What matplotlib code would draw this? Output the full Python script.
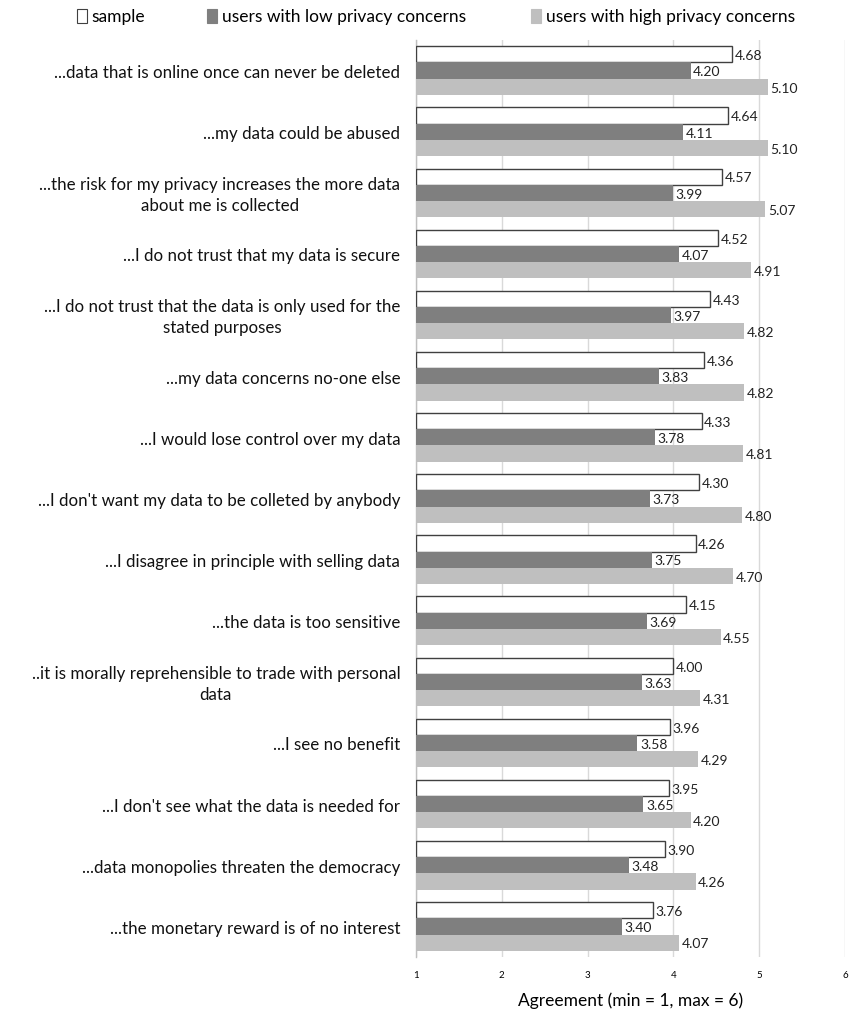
import matplotlib
matplotlib.use("Agg")
import matplotlib.pyplot as plt
from matplotlib.patches import Patch
import numpy as np

plt.rcParams['font.family'] = ['Lato', 'DejaVu Sans']

categories = [
    "...data that is online once can never be deleted",
    "...my data could be abused",
    "...the risk for my privacy increases the more data\nabout me is collected",
    "...I do not trust that my data is secure",
    "...I do not trust that the data is only used for the\nstated purposes",
    "...my data concerns no-one else",
    "...I would lose control over my data",
    "...I don't want my data to be colleted by anybody",
    "...I disagree in principle with selling data",
    "...the data is too sensitive",
    "..it is morally reprehensible to trade with personal\ndata",
    "...I see no benefit",
    "...I don't see what the data is needed for",
    "...data monopolies threaten the democracy",
    "...the monetary reward is of no interest",
]
sample = [4.68, 4.64, 4.57, 4.52, 4.43, 4.36, 4.33, 4.30, 4.26, 4.15, 4.00, 3.96, 3.95, 3.90, 3.76]
low = [4.20, 4.11, 3.99, 4.07, 3.97, 3.83, 3.78, 3.73, 3.75, 3.69, 3.63, 3.58, 3.65, 3.48, 3.40]
high = [5.10, 5.10, 5.07, 4.91, 4.82, 4.82, 4.81, 4.80, 4.70, 4.55, 4.31, 4.29, 4.20, 4.26, 4.07]
series_names = ["sample", "users with low privacy concerns", "users with high privacy concerns"]
xticks = [1, 2, 3, 4, 5, 6]

fig = plt.figure(figsize=(8.55, 10.09), dpi=100)
ax = fig.add_axes([416/855, 1 - 957/1009, (845-416)/855, (957-40)/1009])

n = len(categories)
y = np.arange(n)
h = 0.265
base = 1.0
styles = [
    dict(color="white", edgecolor="#404040", linewidth=1.0),
    dict(color="#7f7f7f", edgecolor="none"),
    dict(color="#bfbfbf", edgecolor="none"),
]
for i, (vals, st) in enumerate(zip([sample, low, high], styles)):
    pos = y + (i - 1) * h
    v = np.array(vals)
    ax.barh(pos, v - base, left=base, height=h, zorder=3, **st)
    for p, val in zip(pos, v):
        ax.text(val + 0.03, p + 0.03, f"{val:.2f}", va="center", ha="left",
                fontsize=10, color="#222222", zorder=4)

ax.set_ylim(n - 0.5, -0.5)
ax.set_xlim(1, 6)
ax.set_xticks(xticks)
ax.set_xticklabels([str(t) for t in xticks], fontsize=7)
ax.set_yticks(y)
ax.set_yticklabels([])
ax.tick_params(axis='both', length=0)
ax.tick_params(axis='x', pad=10)
ax.grid(axis='x', color="#d9d9d9", linewidth=1.0, zorder=0)
for s in ["top", "right", "bottom"]:
    ax.spines[s].set_visible(False)
ax.spines["left"].set_color("#bfbfbf")
ax.spines["left"].set_linewidth(1.0)

for yi, cat in zip(y, categories):
    ax.text(-0.037, yi + 0.04, cat, transform=ax.get_yaxis_transform(), ha="right",
            va="center", multialignment="center", fontsize=12.2, color="#111111",
            linespacing=1.35)

ax.set_xlabel("Agreement (min = 1, max = 6)", fontsize=12.5, labelpad=9)

legend_x = [77/855, 207/855, 531/855]
for st, name, lx in zip(styles, series_names, legend_x):
    ec = st["edgecolor"] if st["edgecolor"] != "none" else st["color"]
    hnd = Patch(facecolor=st["color"], edgecolor=ec, linewidth=0.8)
    fig.legend([hnd], [name], loc="center left", bbox_to_anchor=(lx, 1 - 17/1009),
               frameon=False, fontsize=12.5, handlelength=0.6, handleheight=0.8,
               handletextpad=0.25, borderaxespad=0, borderpad=0)

fig.savefig("out.png", dpi=100)
